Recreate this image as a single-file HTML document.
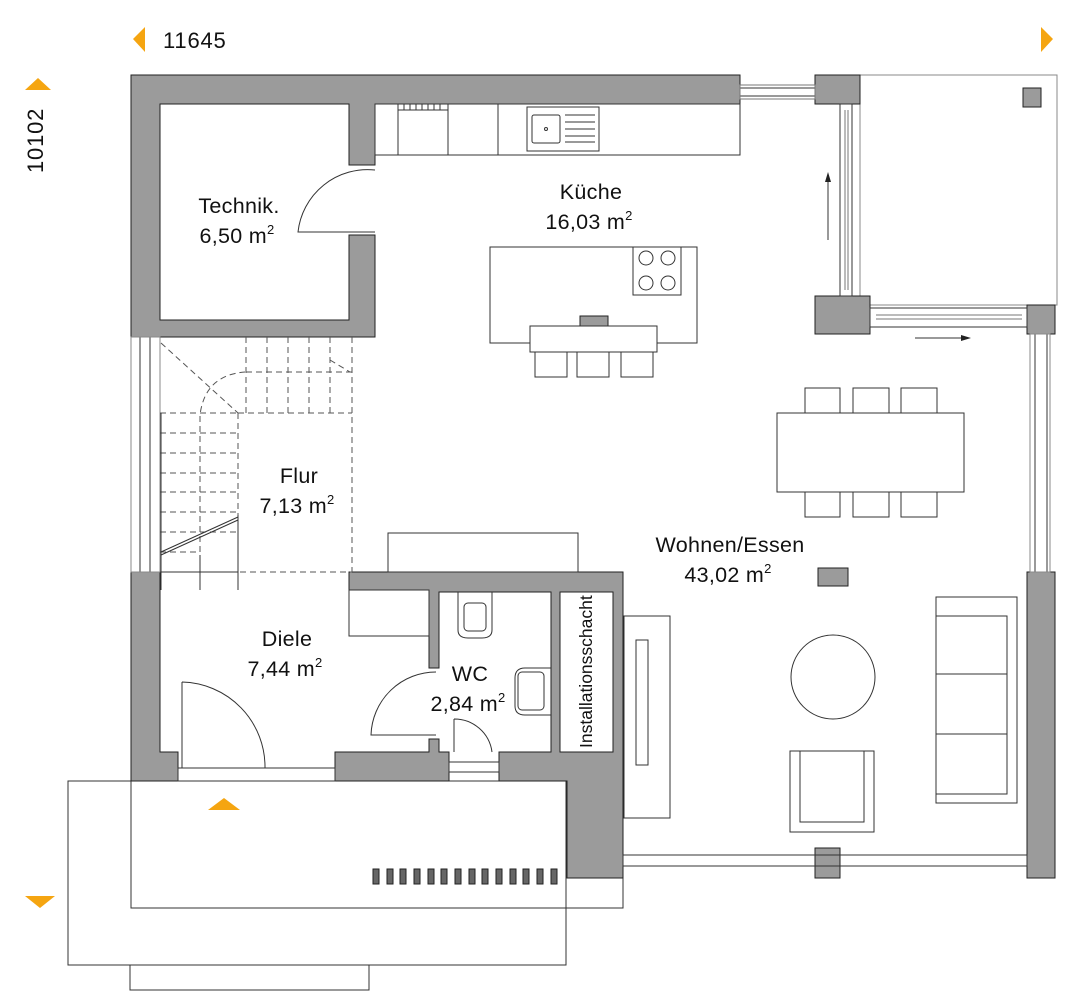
<!DOCTYPE html>
<html><head><meta charset="utf-8"><style>
body{margin:0;background:#fff}
svg{display:block}
text{font-family:"Liberation Sans",sans-serif;fill:#111}
</style></head><body>
<svg width="1080" height="1004" viewBox="0 0 1080 1004" xmlns="http://www.w3.org/2000/svg">
<g fill="none" stroke="#333" stroke-width="1">
<rect x="68" y="781" width="498" height="184"/>
<rect x="131" y="781" width="492" height="127"/>
<rect x="130" y="965" width="239" height="25"/>
<rect x="860" y="75" width="197" height="230" stroke="#888"/>
</g>
<g fill="#9b9b9b" stroke="#222" stroke-width="1">
<path d="M131 75 H740 V104 H375 V165 H349 V104 H160 V320 H349 V235 H375 V337 H131 Z"/>
<rect x="815" y="75" width="45" height="29"/>
<rect x="815" y="296" width="55" height="38"/>
<rect x="1027" y="305" width="28" height="29"/>
<rect x="1027" y="572" width="28" height="306"/>
<rect x="815" y="848" width="25" height="30"/>
<rect x="1023" y="88" width="18" height="19"/>
<path d="M131 572 H160 V752 H178 V781 H131 Z"/>
<path d="M349 572 H623 V878 H567 V781 H499 V752 H551 V592 H439 V668 H429 V590 H349 Z"/>
<path d="M429 739 H439 V752 H449 V781 H335 V752 H429 Z"/>
<rect x="818" y="568" width="30" height="18"/>
<rect x="580" y="316" width="28" height="19"/>
</g>
<g fill="#fff" stroke="#222" stroke-width="1">
<rect x="560" y="592" width="53" height="160"/>
</g>
<g fill="none" stroke="#333" stroke-width="1">
<rect x="740" y="88" width="75" height="8"/>
<rect x="740" y="85" width="75" height="14" stroke="#777"/>
<rect x="840" y="104" width="12" height="192"/>
<line x1="845" y1="110" x2="845" y2="290" stroke="#777"/>
<line x1="848" y1="110" x2="848" y2="290" stroke="#777"/>
<rect x="870" y="308" width="157" height="19"/>
<line x1="876" y1="315" x2="1022" y2="315" stroke="#777"/>
<line x1="876" y1="319" x2="1022" y2="319" stroke="#777"/>
<rect x="1035" y="334" width="12" height="238"/>
<rect x="1030" y="334" width="20" height="238" stroke="#888"/>
<rect x="623" y="855" width="404" height="11"/>
<rect x="140" y="337" width="10" height="235"/>
<rect x="131" y="337" width="29" height="235" stroke="#888"/>
<rect x="178" y="768" width="157" height="13"/>
<rect x="449" y="762" width="50" height="10"/>
<line x1="828" y1="240" x2="828" y2="175"/>
<line x1="915" y1="338" x2="968" y2="338"/>
<rect x="375" y="104" width="365" height="51"/>
<rect x="398" y="104" width="50" height="51"/>
<line x1="498" y1="104" x2="498" y2="155"/>
<rect x="527" y="107" width="72" height="44"/>
<rect x="532" y="115" width="28" height="28" rx="2"/>
<circle cx="546" cy="129" r="1.5"/>
<line x1="565" y1="115" x2="595" y2="115"/><line x1="565" y1="122" x2="595" y2="122"/><line x1="565" y1="129" x2="595" y2="129"/><line x1="565" y1="136" x2="595" y2="136"/><line x1="565" y1="142" x2="595" y2="142"/>
<path d="M398 110 H448 M404 104V110 M410 104V110 M416 104V110 M422 104V110 M428 104V110 M434 104V110 M440 104V110"/>
<rect x="490" y="247" width="207" height="96"/>
<rect x="633" y="247" width="48" height="48"/>
<circle cx="646" cy="258" r="7"/><circle cx="668" cy="258" r="7"/><circle cx="646" cy="283" r="7"/><circle cx="668" cy="283" r="7"/>
<rect x="530" y="326" width="127" height="26" fill="#fff"/>
<rect x="535" y="352" width="32" height="25"/><rect x="577" y="352" width="32" height="25"/><rect x="621" y="352" width="32" height="25"/>
<rect x="777" y="413" width="187" height="79"/>
<rect x="805" y="388" width="35" height="25"/><rect x="853" y="388" width="36" height="25"/><rect x="901" y="388" width="36" height="25"/>
<rect x="805" y="492" width="35" height="25"/><rect x="853" y="492" width="36" height="25"/><rect x="901" y="492" width="36" height="25"/>
<rect x="936" y="597" width="81" height="206"/>
<rect x="936" y="616" width="71" height="58"/><rect x="936" y="674" width="71" height="60"/><rect x="936" y="734" width="71" height="60"/>
<circle cx="833" cy="677" r="42"/>
<rect x="790" y="751" width="84" height="81"/>
<rect x="800" y="751" width="64" height="71"/>
<rect x="624" y="616" width="46" height="202"/>
<rect x="636" y="640" width="12" height="125"/>
<rect x="388" y="533" width="190" height="39"/>
<rect x="349" y="590" width="80" height="46"/>
<path d="M458 592 V630 Q458 638 468 638 H482 Q492 638 492 630 V592"/>
<rect x="464" y="603" width="22" height="28" rx="4"/>
<path d="M551 668 H525 Q515 668 515 678 V706 Q515 715 525 715 H551"/>
<rect x="518" y="672" width="26" height="38" rx="4"/>
<path d="M375 170 A70 70 0 0 0 298 232 H375"/>
<path d="M182 682 V768 M182 682 A85 85 0 0 1 265 768"/>
<path d="M436 672 A65 65 0 0 0 371 735 H436"/>
<path d="M454 719 V752 M454 719 A38 38 0 0 1 492 752"/>
</g>
<g stroke="#555" stroke-width="1" stroke-dasharray="6,4" fill="none">
<path d="M161 343 L238 413"/>
<path d="M238 413 H352 M238 413 V550 M352 337 V572 M160 572 H352"/>
<path d="M246 337V413 M267 337V413 M288 337V413 M309 337V413 M330 337V413"/>
<path d="M246 372 H352 M330 360 L350 372"/>
<path d="M200 572 V415 Q205 375 245 372"/>
<path d="M160 413 H238 M160 433 H238 M160 453 H238 M160 473 H238 M160 492 H238 M160 512 H238 M160 532 H238 M160 552 H200"/>
</g>
<g stroke="#333" fill="none">
<path d="M161 413 V590 M238 515 V590 M161 552 L238 517 M161 555 L238 520 M161 572 H238 M200 555 V590"/>
</g>
<g fill="#222">
<polygon points="828,172 825,182 831,182"/>
<polygon points="971,338 961,335 961,341"/>
<g fill="#666" stroke="#222">
<rect x="373" y="869" width="6" height="15"/><rect x="387" y="869" width="6" height="15"/><rect x="400" y="869" width="6" height="15"/><rect x="414" y="869" width="6" height="15"/><rect x="428" y="869" width="6" height="15"/><rect x="441" y="869" width="6" height="15"/><rect x="455" y="869" width="6" height="15"/><rect x="469" y="869" width="6" height="15"/><rect x="482" y="869" width="6" height="15"/><rect x="496" y="869" width="6" height="15"/><rect x="510" y="869" width="6" height="15"/><rect x="523" y="869" width="6" height="15"/><rect x="537" y="869" width="6" height="15"/><rect x="551" y="869" width="6" height="15"/>
</g>
</g>
<g fill="#f5a511">
<polygon points="145,27 145,52 133,39"/>
<polygon points="1041,27 1041,52 1053,39"/>
<polygon points="25,90 51,90 38,78"/>
<polygon points="25,896 55,896 40,908"/>
<polygon points="208,810 240,810 224,798"/>
</g>
<text x="163" y="48" font-size="22" letter-spacing="0.8">11645</text>
<text transform="translate(43,173) rotate(-90)" font-size="22" letter-spacing="0.8">10102</text>
<g font-size="21.5" text-anchor="middle" letter-spacing="0.3">
<text x="239" y="213">Technik.</text><text x="237" y="243">6,50 m<tspan font-size="13" dy="-9">2</tspan></text>
<text x="591" y="199">Küche</text><text x="589" y="229">16,03 m<tspan font-size="13" dy="-9">2</tspan></text>
<text x="299" y="483">Flur</text><text x="297" y="513">7,13 m<tspan font-size="13" dy="-9">2</tspan></text>
<text x="287" y="646">Diele</text><text x="285" y="676">7,44 m<tspan font-size="13" dy="-9">2</tspan></text>
<text x="470" y="681">WC</text><text x="468" y="711">2,84 m<tspan font-size="13" dy="-9">2</tspan></text>
<text x="730" y="552">Wohnen/Essen</text><text x="728" y="582">43,02 m<tspan font-size="13" dy="-9">2</tspan></text>
</g>
<text transform="translate(592,748) rotate(-90)" font-size="17.5">Installationsschacht</text>
</svg>
</body></html>
